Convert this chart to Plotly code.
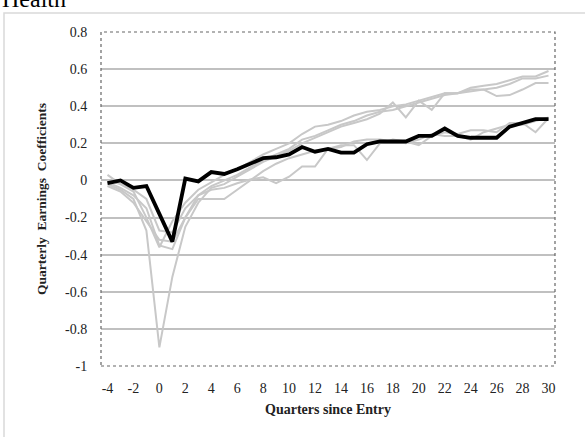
import plotly.graph_objects as go

quarters = list(range(-4, 31))

main_coef = [-0.015, 0.0, -0.04, -0.03, -0.18, -0.33, 0.01, -0.005, 0.045, 0.035,
             0.06, 0.09, 0.12, 0.125, 0.14, 0.18, 0.155, 0.17, 0.15, 0.15,
             0.195, 0.21, 0.21, 0.21, 0.24, 0.24, 0.28, 0.24, 0.23, 0.23,
             0.23, 0.29, 0.31, 0.33, 0.33]

gray_1 = [0.03, -0.02, -0.06, -0.2, -0.36, -0.22, -0.12, -0.05, -0.01, 0.03,
          0.06, 0.1, 0.14, 0.17, 0.2, 0.25, 0.29, 0.3, 0.32, 0.35,
          0.37, 0.38, 0.4, 0.41, 0.43, 0.45, 0.47, 0.47, 0.5, 0.51,
          0.52, 0.54, 0.56, 0.56, 0.59]

gray_2 = [-0.01, -0.04, -0.08, -0.15, -0.35, -0.37, -0.2, -0.08, -0.03, 0.0,
          0.03, 0.07, 0.11, 0.14, 0.17, 0.22, 0.24, 0.27, 0.3, 0.32,
          0.35, 0.37, 0.38, 0.4, 0.42, 0.44, 0.46, 0.47, 0.49, 0.49,
          0.5, 0.52, 0.55, 0.55, 0.565]

gray_3 = [-0.02, -0.05, -0.1, -0.27, -0.9, -0.52, -0.25, -0.12, -0.04, -0.02,
          0.02, 0.06, 0.1, 0.13, 0.16, 0.2, 0.23, 0.26, 0.29, 0.31,
          0.33, 0.36, 0.42, 0.34, 0.43, 0.38, 0.47, 0.47, 0.48, 0.49,
          0.455, 0.46, 0.49, 0.525, 0.525]

gray_4 = [0.0, -0.02, -0.05, -0.1, -0.27, -0.28, -0.15, -0.08, -0.05, -0.04,
          -0.015, 0.005, 0.017, -0.015, 0.02, 0.075, 0.075, 0.17, 0.19, 0.19,
          0.11, 0.2, 0.22, 0.21, 0.19, 0.24, 0.26, 0.25, 0.27, 0.27,
          0.26, 0.31, 0.31, 0.26, 0.335]

gray_5 = [-0.03, -0.06, -0.12, -0.22, -0.32, -0.33, -0.2, -0.1, -0.1, -0.1,
          -0.05, 0.0, 0.05, 0.09, 0.12, 0.14, 0.16, 0.17, 0.18, 0.21,
          0.22, 0.22, 0.21, 0.2, 0.22, 0.25, 0.24, 0.24, 0.22, 0.26,
          0.28, 0.3, 0.3, 0.32, 0.34]

gray_series = [gray_1, gray_2, gray_3, gray_4, gray_5]

x_ticks = list(range(-4, 31, 2))
x_tick_text = [str(v) for v in x_ticks]
y_ticks = [-1, -0.8, -0.6, -0.4, -0.2, 0, 0.2, 0.4, 0.6, 0.8]
y_tick_text = ["-1", "-0.8", "-0.6", "-0.4", "-0.2", "0", "0.2", "0.4", "0.6", "0.8"]

FONT = "Liberation Serif, Times New Roman, serif"

fig = go.Figure()
for g in gray_series:
    fig.add_trace(go.Scatter(x=quarters, y=g, mode="lines",
                             line=dict(color="#c8c8c8", width=2), showlegend=False,
                             hoverinfo="skip"))
fig.add_trace(go.Scatter(x=quarters, y=main_coef, mode="lines",
                         line=dict(color="#000000", width=3.8), showlegend=False))

L, R, T, B = 101, 30, 32, 71
PW, PH = 585 - L - R, 437 - T - B

fig.update_layout(
    width=585, height=437,
    margin=dict(l=L, r=R, t=T, b=B, autoexpand=False),
    paper_bgcolor="white", plot_bgcolor="white",
    font=dict(family=FONT, size=12, color="#222"),
    xaxis=dict(range=[-4.5, 30.5], tickvals=x_ticks, ticktext=x_tick_text, showgrid=False,
               zeroline=False, showline=False, ticks="outside", ticklen=9,
               tickcolor="rgba(0,0,0,0)", tickfont=dict(family=FONT, size=14, color="#222"),
               title=dict(text="<b>Quarters since Entry</b>", font=dict(family=FONT, size=14, color="#222"),
                          standoff=9)),
    yaxis=dict(range=[-1, 0.8], tickvals=y_ticks, ticktext=y_tick_text, showgrid=True,
               gridcolor="#c0c0c0", gridwidth=1.5, zeroline=False, showline=False,
               ticks="outside", ticklen=10, tickcolor="rgba(0,0,0,0)",
               tickfont=dict(family=FONT, size=14, color="#222"),
               title=dict(text="<b>Quarterly  Earnings  Coefficients</b>",
                          font=dict(family=FONT, size=13.5, color="#222"), standoff=15)),
    shapes=[
        dict(type="rect", xref="paper", yref="paper", x0=0, x1=1, y0=0, y1=1,
             line=dict(color="#666", width=1.2, dash="dot"), layer="above"),
        dict(type="rect", xref="paper", yref="paper",
             x0=(4 - L) / PW, x1=(600 - L) / PW,
             y0=(437 - B - 450) / PH, y1=(437 - B - 13) / PH,
             line=dict(color="#d9d9d9", width=1.5), layer="below"),
    ],
    annotations=[
        dict(text="Health", xref="paper", yref="paper", x=(0 - L) / PW, y=(437 - B - 14) / PH,
             xanchor="left", yanchor="bottom", showarrow=False,
             font=dict(family=FONT, size=24, color="#000")),
    ],
)

fig.write_html("out.html", config={"displayModeBar": False},
               post_script="document.body.style.margin='0';document.body.style.padding='0';")
